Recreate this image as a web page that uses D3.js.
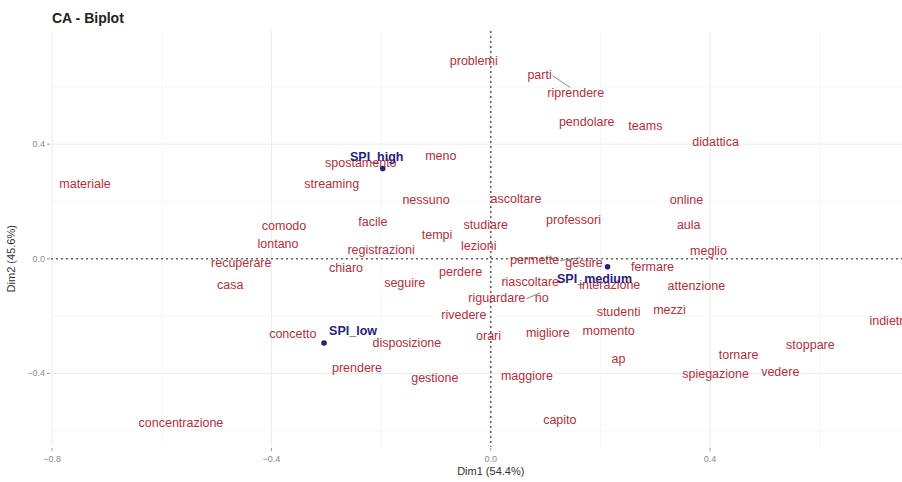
<!DOCTYPE html>
<html>
<head>
<meta charset="utf-8">
<script src="https://cdn.jsdelivr.net/npm/d3@7"></script>
<style>
  body { margin: 0; background: #fff; }
  svg { font-family: "Liberation Sans", Arial, sans-serif; }
  .grid-major { stroke: #ebebeb; stroke-width: 1; }
  .grid-minor { stroke: #f4f4f4; stroke-width: 0.6; }
  .tick-label { fill: #8a8a8a; font-size: 9px; }
  .axis-title { fill: #333; font-size: 11px; }
  .word { fill: #b22f3a; font-size: 12.5px; }
  .spi { fill: #23237d; font-size: 12.5px; font-weight: bold; }
</style>
</head>
<body>
<svg width="902" height="482"></svg>
<script>
// words (row points) - label coordinates
var words = ['problemi','parti','riprendere','pendolare','teams','didattica','spostamento','meno',
  'materiale','streaming','nessuno','ascoltare','online','comodo','facile','studiare','professori',
  'aula','tempi','lontano','registrazioni','lezioni','meglio','recuperare','casa','chiaro','permette',
  'gestire','fermare','perdere','seguire','riascoltare','interazione','attenzione','riguardare','no',
  'studenti','mezzi','rivedere','indietro','concetto','disposizione','orari','migliore','momento',
  'ap','stoppare','tornare','prendere','spiegazione','vedere','gestione','maggiore','concentrazione','capito'];
var wordDim1 = [-0.031,0.089,0.155,0.175,0.282,0.410,-0.237,-0.091,
  -0.740,-0.290,-0.118,0.046,0.357,-0.377,-0.215,-0.009,0.151,
  0.361,-0.098,-0.388,-0.200,-0.022,0.397,-0.455,-0.475,-0.264,0.080,
  0.170,0.295,-0.055,-0.157,0.072,0.217,0.375,0.011,0.093,
  0.233,0.326,-0.049,0.728,-0.361,-0.153,-0.004,0.104,0.215,
  0.233,0.583,0.452,-0.244,0.410,0.528,-0.102,0.066,-0.565,0.126];
var wordDim2 = [0.689,0.643,0.580,0.479,0.462,0.406,0.336,0.360,
  0.262,0.262,0.206,0.210,0.206,0.115,0.129,0.119,0.136,
  0.119,0.084,0.052,0.031,0.045,0.028,-0.014,-0.091,-0.031,-0.003,
  -0.014,-0.028,-0.045,-0.084,-0.080,-0.091,-0.094,-0.136,-0.136,
  -0.185,-0.178,-0.196,-0.217,-0.262,-0.294,-0.269,-0.259,-0.252,
  -0.350,-0.301,-0.336,-0.381,-0.402,-0.395,-0.416,-0.409,-0.573,-0.563];

// SPI levels (column points)
var spiNames = ['SPI_high','SPI_medium','SPI_low'];
var spiDim1 = [-0.197, 0.213, -0.304];
var spiDim2 = [0.315, -0.028, -0.294];

// repel connector pairs
var links = [['parti','riprendere'],['permette','gestire'],['riguardare','no']];

var xTicks = [-0.8, -0.4, 0, 0.4];
var yTicks = [-0.4, 0, 0.4];
var xMinor = [-0.6, -0.2, 0.2, 0.6];
var yMinor = [-0.6, -0.2, 0.2, 0.6];

var svg = d3.select('svg');
var x = d3.scaleLinear().domain([-0.802, 0.75]).range([51, 902]);
var y = d3.scaleLinear().domain([-0.657, 0.795]).range([447, 31]);
var fmt = d3.format('.1f');

var grid = svg.append('g');
grid.selectAll('line.vmin').data(xMinor).enter().append('line')
  .attr('class', 'grid-minor')
  .attr('x1', d => x(d)).attr('x2', d => x(d))
  .attr('y1', y.range()[1]).attr('y2', y.range()[0]);
grid.selectAll('line.hmin').data(yMinor).enter().append('line')
  .attr('class', 'grid-minor')
  .attr('x1', x.range()[0]).attr('x2', x.range()[1])
  .attr('y1', d => y(d)).attr('y2', d => y(d));
grid.selectAll('line.vmaj').data(xTicks).enter().append('line')
  .attr('class', 'grid-major')
  .attr('x1', d => x(d)).attr('x2', d => x(d))
  .attr('y1', y.range()[1]).attr('y2', y.range()[0]);
grid.selectAll('line.hmaj').data(yTicks).enter().append('line')
  .attr('class', 'grid-major')
  .attr('x1', x.range()[0]).attr('x2', x.range()[1])
  .attr('y1', d => y(d)).attr('y2', d => y(d));

// axis ticks and labels
var xAxis = svg.append('g');
xAxis.selectAll('line').data(xTicks).enter().append('line')
  .attr('x1', d => x(d)).attr('x2', d => x(d))
  .attr('y1', 448).attr('y2', 451)
  .style('stroke', '#999');
xAxis.selectAll('text').data(xTicks).enter().append('text')
  .attr('class', 'tick-label')
  .attr('x', d => x(d)).attr('y', 462)
  .attr('text-anchor', 'middle')
  .text(d => fmt(d));

var yAxis = svg.append('g');
yAxis.selectAll('line').data(yTicks).enter().append('line')
  .attr('x1', 47).attr('x2', 50)
  .attr('y1', d => y(d)).attr('y2', d => y(d))
  .style('stroke', '#999');
yAxis.selectAll('text').data(yTicks).enter().append('text')
  .attr('class', 'tick-label')
  .attr('x', 45).attr('y', d => y(d) + 3)
  .attr('text-anchor', 'end')
  .text(d => fmt(d));

// zero reference lines
svg.append('line')
  .attr('x1', x(0)).attr('x2', x(0))
  .attr('y1', y.range()[1]).attr('y2', y.range()[0])
  .style('stroke', '#666').style('stroke-width', 1.6)
  .style('stroke-dasharray', '2,3');
svg.append('line')
  .attr('x1', x.range()[0]).attr('x2', x.range()[1])
  .attr('y1', y(0)).attr('y2', y(0))
  .style('stroke', '#666').style('stroke-width', 1.6)
  .style('stroke-dasharray', '2,3');

// word labels
var wordData = words.map((w, i) => ({name: w, d1: wordDim1[i], d2: wordDim2[i]}));
var byName = {};
wordData.forEach(d => byName[d.name] = d);

var linkG = svg.append('g');
svg.append('g').selectAll('text').data(wordData).enter().append('text')
  .attr('class', 'word')
  .attr('x', d => x(d.d1)).attr('y', d => y(d.d2) + 4)
  .attr('text-anchor', 'middle')
  .text(d => d.name)
  .each(function(d) { d.w = this.getComputedTextLength(); });

// short repel segments: end of first label -> top-left part of second label
linkG.selectAll('line').data(links).enter().append('line')
  .attr('x1', d => x(byName[d[0]].d1) + byName[d[0]].w / 2 + 1)
  .attr('y1', d => y(byName[d[0]].d2) + 1)
  .attr('x2', d => x(byName[d[1]].d1) - byName[d[1]].w * 0.1)
  .attr('y2', d => y(byName[d[1]].d2) - 5)
  .style('stroke', '#555').style('stroke-width', 0.7);

// SPI points and labels
var spiData = spiNames.map((s, i) => ({name: s, d1: spiDim1[i], d2: spiDim2[i]}));
var spiOffset = {SPI_high: [-6, -12], SPI_medium: [-13, 12], SPI_low: [29, -12]};
svg.append('g').selectAll('circle').data(spiData).enter().append('circle')
  .attr('cx', d => x(d.d1)).attr('cy', d => y(d.d2))
  .attr('r', 2.8)
  .style('fill', '#23237d');
svg.append('g').selectAll('text').data(spiData).enter().append('text')
  .attr('class', 'spi')
  .attr('x', d => x(d.d1) + spiOffset[d.name][0])
  .attr('y', d => y(d.d2) + spiOffset[d.name][1] + 4)
  .attr('text-anchor', 'middle')
  .text(d => d.name);

// titles
svg.append('text')
  .attr('x', 52).attr('y', 23)
  .style('font-size', '14px').style('font-weight', 'bold').style('fill', '#222')
  .text('CA - Biplot');
svg.append('text')
  .attr('class', 'axis-title')
  .attr('x', x(0)).attr('y', 475)
  .attr('text-anchor', 'middle')
  .text('Dim1 (54.4%)');
svg.append('text')
  .attr('class', 'axis-title')
  .attr('transform', 'translate(15,' + y(0) + ') rotate(-90)')
  .attr('text-anchor', 'middle')
  .text('Dim2 (45.6%)');
</script>
</body>
</html>
